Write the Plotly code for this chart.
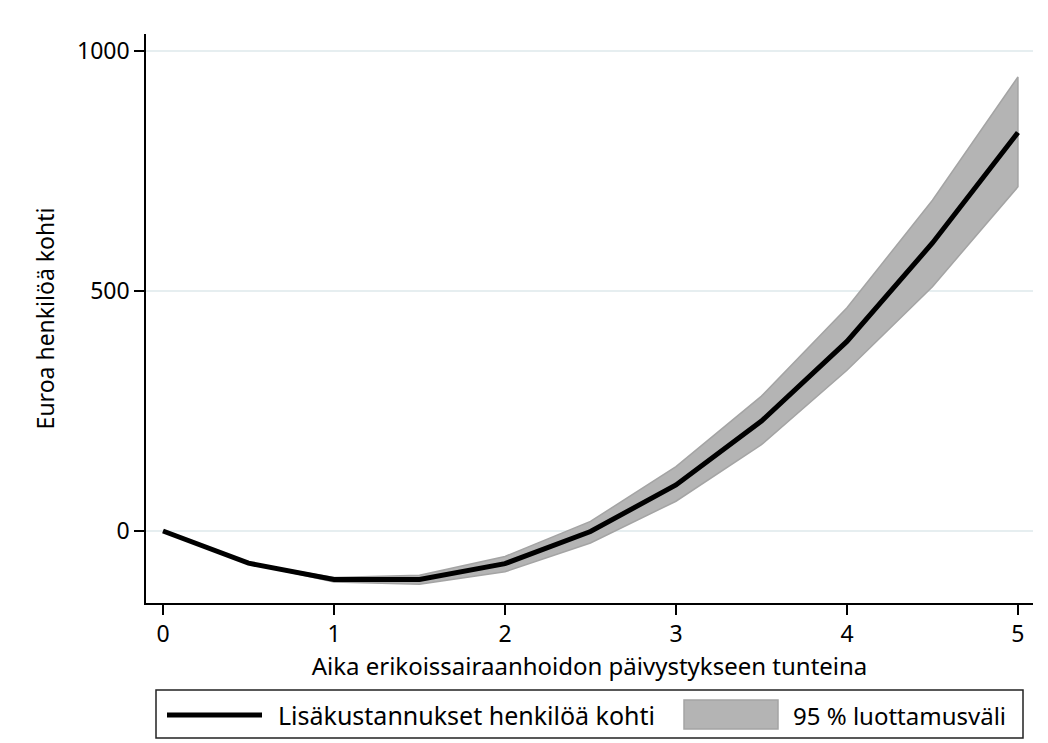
import plotly.graph_objects as go

# ---- data ----
hours = [0, 0.5, 1, 1.5, 2, 2.5, 3, 3.5, 4, 4.5, 5]
cost = [0, -67, -101, -101, -68, -1, 96, 229, 395, 600, 830]
ci_upper = [0, -67, -97, -92, -53, 20, 134, 281, 465, 689, 946]
ci_lower = [0, -67, -106, -111, -85, -25, 62, 180, 335, 509, 717]
x_ticks = [0, 1, 2, 3, 4, 5]
y_ticks = [0, 500, 1000]
line_label = "Lisäkustannukset henkilöä kohti"
band_label = "95 % luottamusväli"
x_title = "Aika erikoissairaanhoidon päivystykseen tunteina"
y_title = "Euroa henkilöä kohti"

FONT = "Noto Sans"
W, H = 1048, 743
L, R, T, B = 146, 15, 34, 140
PW, PH = W - L - R, H - T - B


def px(x):
    return (x - L) / PW


def py(y):
    return (H - B - y) / PH


fig = go.Figure()
fig.add_trace(go.Scatter(x=hours + hours[::-1], y=ci_upper + ci_lower[::-1],
                         fill="toself", fillcolor="#b4b4b4",
                         line=dict(color="#a4a4a4", width=1.5),
                         mode="lines", showlegend=False, hoverinfo="skip"))
fig.add_trace(go.Scatter(x=hours, y=cost, mode="lines",
                         line=dict(color="black", width=5),
                         showlegend=False))

shapes = [
    dict(type="rect", xref="paper", yref="paper", x0=px(156), x1=px(1023),
         y0=py(738), y1=py(690), line=dict(color="#222", width=1.5), fillcolor="white"),
    dict(type="line", xref="paper", yref="paper", x0=px(167), x1=px(262),
         y0=py(715), y1=py(715), line=dict(color="black", width=5)),
    dict(type="rect", xref="paper", yref="paper", x0=px(684), x1=px(778),
         y0=py(729), y1=py(700), line=dict(color="#a4a4a4", width=1.5), fillcolor="#b4b4b4"),
]
annotations = [
    dict(xref="paper", yref="paper", x=px(276), y=py(715), text=line_label,
         showarrow=False, xanchor="left", yanchor="middle",
         font=dict(family=FONT, size=25, color="black")),
    dict(xref="paper", yref="paper", x=px(791), y=py(715), text=band_label,
         showarrow=False, xanchor="left", yanchor="middle",
         font=dict(family=FONT, size=24, color="black")),
]

fig.update_layout(
    width=W, height=H,
    margin=dict(l=L, r=R, t=T, b=B),
    paper_bgcolor="white", plot_bgcolor="white",
    font=dict(family=FONT, size=23, color="black"),
    shapes=shapes, annotations=annotations,
    xaxis=dict(range=[-0.0994, 5.088], tickvals=x_ticks, showgrid=False,
               zeroline=False, showline=True, linecolor="black", linewidth=1.5,
               ticks="outside", ticklen=10, tickwidth=1.5, tickcolor="black",
               tickfont=dict(size=23), title=dict(text=x_title, font=dict(size=24), standoff=2)),
    yaxis=dict(range=[-150, 1035.4], tickvals=y_ticks, showgrid=True,
               gridcolor="#e6eef0", gridwidth=1.5, zeroline=False,
               showline=True, linecolor="black", linewidth=1.5,
               ticks="outside", ticklen=10, tickwidth=1.5, tickcolor="black",
               tickfont=dict(size=23), title=dict(text=y_title, font=dict(size=23), standoff=16)),
)

fig.write_html("out.html")
